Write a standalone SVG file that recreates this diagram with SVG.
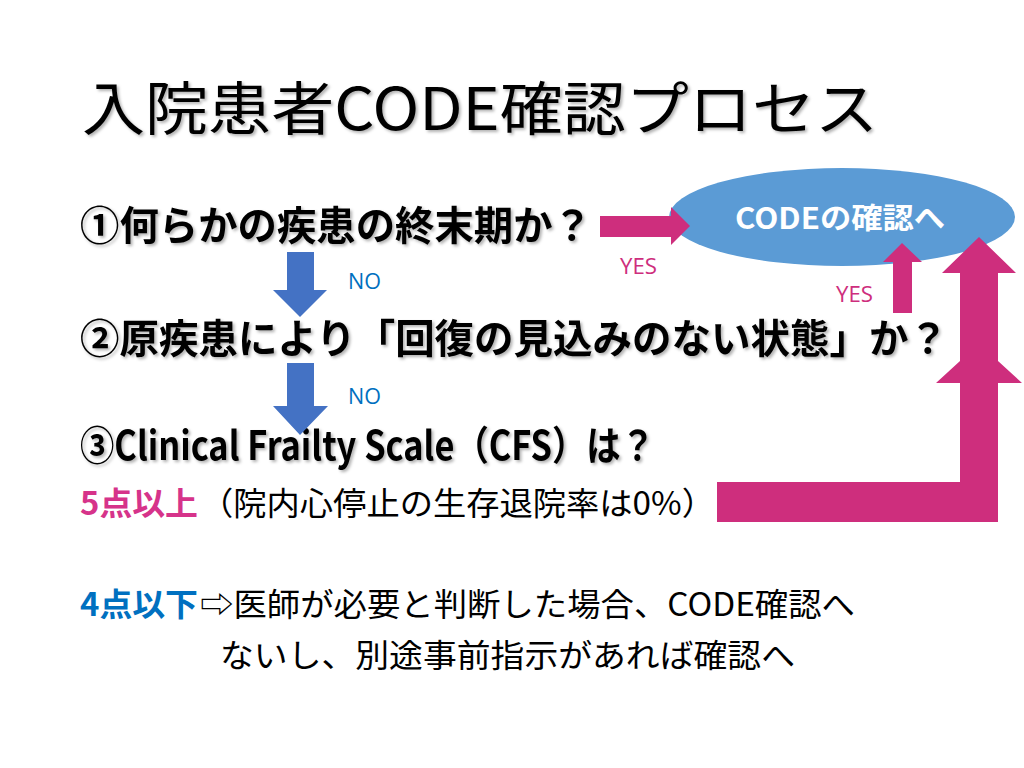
<svg xmlns="http://www.w3.org/2000/svg" width="1024" height="768" viewBox="0 0 1024 768">
<defs>
<filter id="sh" x="-5%" y="-20%" width="110%" height="150%">
<feDropShadow dx="2" dy="2" stdDeviation="1.5" flood-color="#000" flood-opacity="0.3"/>
</filter>
</defs>
<style>
text{font-family:"Noto Sans CJK JP","Noto Sans",sans-serif;}
.t{font-size:58px;fill:#000;}
.q{font-size:40px;font-weight:bold;fill:#000;}
.r{font-size:32px;fill:#000;}
.pk{fill:#CE2E7D;}
.bl{fill:#4472C4;}
.lbl{font-family:"Open Sans","Noto Sans",sans-serif;font-size:21px;}
</style>
<rect width="1024" height="768" fill="#fff"/>
<g id="title">
<text class="t" x="82" y="130" textLength="796" lengthAdjust="spacingAndGlyphs" filter="url(#sh)">入院患者CODE確認プロセス</text>
</g>
<g id="q1">
<text class="q" x="80" y="240" textLength="512" lengthAdjust="spacingAndGlyphs" filter="url(#sh)">①何らかの疾患の終末期か？</text>
</g>
<g id="q2">
<text class="q" x="80" y="353" textLength="868" lengthAdjust="spacingAndGlyphs" filter="url(#sh)">②原疾患により「回復の見込みのない状態」か？</text>
</g>
<g id="q3">
<text class="q" x="80" y="460" textLength="575" lengthAdjust="spacingAndGlyphs" filter="url(#sh)">③Clinical Frailty Scale（CFS）は？</text>
</g>
<g id="code">
<ellipse cx="842" cy="217" rx="173" ry="49" fill="#5B9BD5"/>
<text x="735" y="229" font-size="29" font-weight="bold" fill="#fff" textLength="210" lengthAdjust="spacingAndGlyphs">CODEの確認へ</text>
</g>
<g id="note5">
<text x="80" y="515" font-size="32" font-weight="bold" fill="#D6338A" textLength="118" lengthAdjust="spacingAndGlyphs">5点以上</text>
<text class="r" x="200" y="515" textLength="515" lengthAdjust="spacingAndGlyphs">（院内心停止の生存退院率は0%）</text>
</g>
<g id="note4">
<text x="80" y="616" font-size="32" font-weight="bold" fill="#0070C0" textLength="118" lengthAdjust="spacingAndGlyphs">4点以下</text>
<text class="r" x="200" y="616" textLength="655" lengthAdjust="spacingAndGlyphs">⇨医師が必要と判断した場合、CODE確認へ</text>
<text class="r" x="220" y="667" textLength="575" lengthAdjust="spacingAndGlyphs">ないし、別途事前指示があれば確認へ</text>
</g>
<g id="connectors">
<polygon class="bl" points="287,252 314,252 314,290 327,290 300,317 273,290 287,290"/>
<polygon class="bl" points="287,363 314,363 314,406 328,406 300,435 273,406 287,406"/>
<text class="lbl" x="348" y="289" fill="#0070C0" textLength="33" lengthAdjust="spacingAndGlyphs">NO</text>
<text class="lbl" x="348" y="404" fill="#0070C0" textLength="33" lengthAdjust="spacingAndGlyphs">NO</text>
<polygon class="pk" points="600,216 671,216 671,207 690,226 671,245 671,237 600,237"/>
<text class="lbl" x="620" y="274" fill="#CE2E7D" textLength="37" lengthAdjust="spacingAndGlyphs">YES</text>
<polygon class="pk" points="893,313 893,262 883,262 902,243 922,262 912,262 912,313"/>
<text class="lbl" x="836" y="302" fill="#CE2E7D" textLength="37" lengthAdjust="spacingAndGlyphs">YES</text>
<polygon class="pk" points="717,482 960,482 960,383 936,383 960,361 960,273 942,273 979,237 1016,273 998,273 998,361 1022,383 998,383 998,522 717,522"/>
</g>
</svg>
